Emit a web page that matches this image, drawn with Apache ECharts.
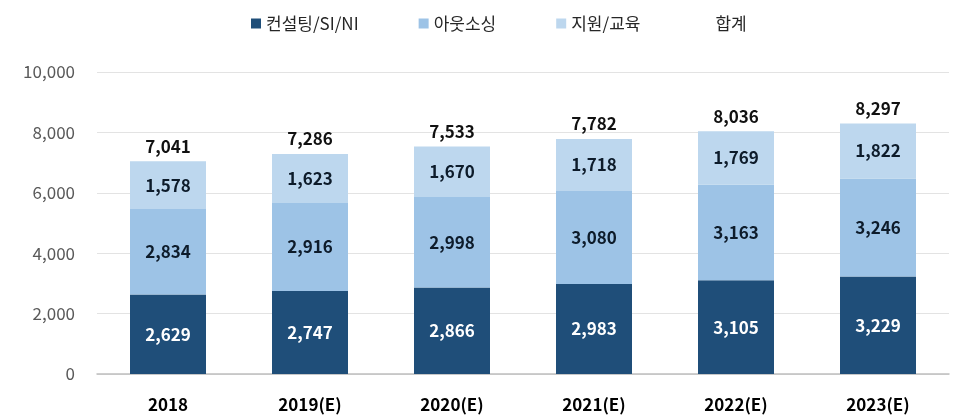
<!DOCTYPE html>
<html>
<head>
<meta charset="utf-8">
<script src="https://cdn.jsdelivr.net/npm/echarts@6/dist/echarts.min.js"></script>
<style>
  html, body { margin: 0; padding: 0; background: #fff; }
  #chart { width: 955px; height: 418px; }
</style>
</head>
<body>
<div id="chart"></div>
<script>
// 연도별 데이터
const years = ['2018', '2019(E)', '2020(E)', '2021(E)', '2022(E)', '2023(E)'];
const consulting = [2629, 2747, 2866, 2983, 3105, 3229];
const outsourcing = [2834, 2916, 2998, 3080, 3163, 3246];
const support = [1578, 1623, 1670, 1718, 1769, 1822];
const totals = [7041, 7286, 7533, 7782, 8036, 8297];
const yTicks = [0, 2000, 4000, 6000, 8000, 10000];

const FONT = '"Noto Sans CJK KR", "Noto Sans", sans-serif';
const fmt = v => v.toLocaleString('en-US');

const chart = echarts.init(document.getElementById('chart'));

const barLabel = function (color) {
    return {
        show: true,
        position: 'inside',
        color: color,
        fontFamily: FONT,
        fontWeight: 'bold',
        fontSize: 17,
        formatter: p => fmt(p.value)
    };
};

const option = {
    animation: false,
    legend: {
        top: 10,
        left: 246,
        itemWidth: 10,
        itemHeight: 10,
        itemGap: 60,
        textStyle: { fontFamily: FONT, fontSize: 17, color: '#262626' },
        data: [
            { name: '컨설팅/SI/NI', icon: 'rect' },
            { name: '아웃소싱', icon: 'rect' },
            { name: '지원/교육', icon: 'rect' },
            { name: '합계', icon: 'rect', itemStyle: { color: 'rgba(0,0,0,0)' } }
        ]
    },
    grid: { left: 97, right: 6, top: 72, bottom: 44 },
    xAxis: {
        type: 'category',
        data: years,
        axisLine: { lineStyle: { color: '#BFBFBF', width: 1.5 } },
        axisTick: { show: false },
        axisLabel: {
            margin: 22,
            fontFamily: FONT,
            fontSize: 17,
            fontWeight: 'bold',
            color: '#000'
        }
    },
    yAxis: {
        type: 'value',
        min: yTicks[0],
        max: yTicks[yTicks.length - 1],
        interval: yTicks[1] - yTicks[0],
        axisLine: { show: false },
        axisTick: { show: false },
        splitLine: { lineStyle: { color: '#E3E3E3', width: 1 } },
        axisLabel: {
            margin: 22,
            fontFamily: FONT,
            fontSize: 17,
            color: '#595959',
            formatter: v => fmt(v)
        }
    },
    series: [
        {
            name: '컨설팅/SI/NI',
            type: 'bar',
            stack: 'total',
            barWidth: 76,
            itemStyle: { color: '#1F4E79' },
            label: barLabel('#FFFFFF'),
            data: consulting
        },
        {
            name: '아웃소싱',
            type: 'bar',
            stack: 'total',
            barWidth: 76,
            itemStyle: { color: '#9DC3E6' },
            label: barLabel('#0D1B2A'),
            data: outsourcing
        },
        {
            name: '지원/교육',
            type: 'bar',
            stack: 'total',
            barWidth: 76,
            itemStyle: { color: '#BDD7EE' },
            label: barLabel('#0D1B2A'),
            data: support
        },
        {
            name: '합계',
            type: 'line',
            data: totals,
            symbol: 'circle',
            symbolSize: 1,
            showSymbol: true,
            lineStyle: { opacity: 0 },
            itemStyle: { color: 'rgba(0,0,0,0)' },
            label: {
                show: true,
                position: 'top',
                distance: 6,
                color: '#111',
                fontFamily: FONT,
                fontWeight: 'bold',
                fontSize: 17,
                formatter: p => fmt(p.value)
            }
        }
    ]
};

chart.setOption(option);
</script>
</body>
</html>
